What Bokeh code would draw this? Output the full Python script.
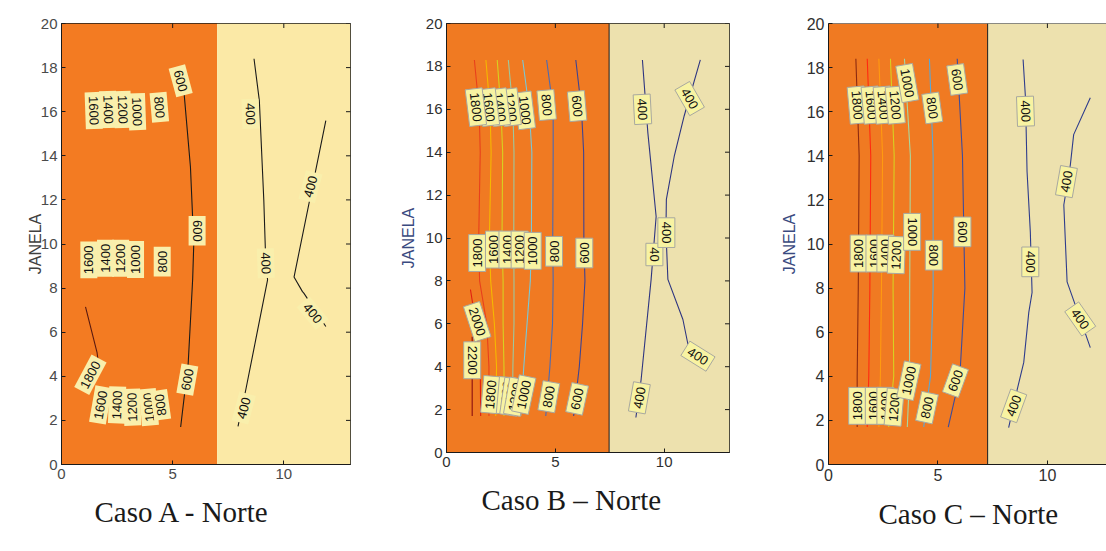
from bokeh.plotting import figure
from bokeh.models import FixedTicker, Title, Span
from bokeh.layouts import row
from bokeh.embed import file_html
from bokeh.resources import INLINE
from bokeh.core.properties import value

# ---------------- shared ticks ----------------
X_TICKS = [0, 5, 10]
Y_TICKS = [0, 2, 4, 6, 8, 10, 12, 14, 16, 18, 20]
Y_LABEL = "JANELA"

# ---------------- Caso A ----------------
A_caption = "Caso A - Norte"
A_split = 7.0
A_xmax = 13.0
A_line_level = ["600", "1800", "400", "400"]
A_line_y = [[1.7, 4.6, 8.4, 10.0, 13.5, 17.0],
            [4.3, 5.07, 7.15],
            [1.73, 3.39, 8.37, 9.13, 12.0, 16.5, 18.4],
            [6.26, 7.77, 7.84, 8.5, 15.6]]
A_line_x = [[5.36, 5.7, 5.9, 5.95, 5.8, 5.5],
            [1.7, 1.6, 1.08],
            [7.94, 8.29, 9.27, 9.19, 9.1, 8.9, 8.66],
            [11.89, 10.9, 10.84, 10.46, 11.89]]
A_line_color = ["#1a1a1a", "#5a1a10", "#1a1a1a", "#1a1a1a"]
A_lab_text = ["800", "1000", "1200", "1400", "1600", "600",
              "1600", "1400", "1200", "1000", "800", "600",
              "1600", "1400", "1200", "1000", "800", "1800", "600",
              "400", "400", "400", "400", "400"]
A_lab_x = [4.4, 3.4, 2.75, 2.1, 1.45, 5.36,
           1.23, 1.98, 2.66, 3.33, 4.53, 6.1,
           1.76, 2.5, 3.18, 3.93, 4.46, 1.3, 5.66,
           8.5, 9.19, 11.2, 11.3, 8.2]
A_lab_y = [16.2, 16.0, 16.1, 16.1, 16.05, 17.4,
           9.28, 9.35, 9.35, 9.3, 9.2, 10.6,
           2.7, 2.7, 2.6, 2.6, 2.7, 4.07, 3.85,
           15.9, 9.13, 12.6, 6.86, 2.56]
A_lab_angle = [-85, -88, -88, -88, -88, -75,
               90, 90, 90, 90, 90, -90,
               80, 88, 92, 95, 98, 62, 80,
               -88, -88, 75, -50, 75]

# ---------------- Caso B ----------------
B_caption = "Caso B \u2013 Norte"
B_split = 7.47
B_xmax = 13.0
B_line_level = ["1800", "1600", "1400", "1200", "1000", "800", "600",
                "2000", "2200", "400", "400"]
B_ys = [1.7, 4.0, 6.0, 8.0, 10.0, 14.0, 16.0, 18.3]
B_line_y = [B_ys] * 7 + [[1.7, 4.0, 6.0, 7.6], [1.7, 5.4],
            [1.63, 3.4, 8.07, 11.0, 14.9, 18.3],
            [5.0, 6.2, 8.07, 10.3, 11.8, 13.8, 15.7, 18.3]]
B_line_x = [[1.95, 1.95, 1.85, 1.52, 1.48, 1.55, 1.5, 1.28],
            [2.26, 2.3, 2.2, 2.03, 1.97, 2.05, 2.0, 1.81],
            [2.64, 2.64, 2.6, 2.6, 2.55, 2.58, 2.5, 2.33],
            [3.03, 3.05, 3.1, 3.1, 3.09, 3.1, 3.05, 2.84],
            [3.41, 3.55, 3.7, 3.85, 3.9, 3.92, 3.8, 3.5],
            [4.56, 4.75, 4.87, 4.9, 4.88, 4.9, 4.9, 4.6],
            [5.84, 6.1, 6.25, 6.36, 6.31, 6.3, 6.2, 5.94],
            [1.57, 1.55, 1.35, 1.1],
            [1.18, 1.18],
            [8.7, 8.94, 9.4, 9.63, 9.25, 9.0],
            [11.1, 10.86, 10.17, 10.08, 10.1, 10.46, 10.92, 11.66]]
B_line_color = ["#e8401c", "#f5b800", "#d8d020", "#9cc8a0", "#78c8d8",
                "#4a6ab4", "#3c4494", "#e02010", "#8c1010", "#2e3580", "#2e3580"]
B_lab_text = ["600", "800", "1000", "1200", "1400", "1600", "1800",
              "1800", "1600", "1400", "1200", "1000", "800", "600",
              "2200", "2000",
              "1800", "1600", "1400", "1200", "1000", "800", "600",
              "400", "400", "40", "400", "400", "400"]
B_lab_x = [6.0, 4.6, 3.6, 2.95, 2.45, 1.95, 1.35,
           1.41, 2.18, 2.8, 3.36, 3.96, 4.94, 6.33,
           1.18, 1.41,
           2.03, 2.75, 2.95, 3.15, 3.55, 4.7, 6.0,
           9.0, 11.17, 9.55, 10.1, 8.86, 11.55]
B_lab_y = [16.15, 16.2, 15.95, 16.1, 16.1, 16.1, 16.1,
           9.3, 9.46, 9.46, 9.46, 9.4, 9.38, 9.3,
           4.3, 6.1,
           2.7, 2.65, 2.6, 2.6, 2.7, 2.6, 2.5,
           16.0, 16.5, 9.23, 10.25, 2.55, 4.49]
B_lab_angle = [-85, -85, -83, -83, -83, -83, -83,
               90, 90, 90, 90, 90, 90, 90,
               -90, -72,
               85, 85, 82, 80, 78, 80, 78,
               -87, -60, -90, -90, 80, -32]

# ---------------- Caso C ----------------
C_caption = "Caso C \u2013 Norte"
C_split = 7.27
C_xmax = 12.7
C_line_level = ["1800", "1600", "1400", "1200", "1000", "800", "600", "400", "400"]
C_ys = [1.7, 4.0, 8.0, 14.0, 18.4]
C_line_y = [C_ys] * 7 + [[1.67, 3.4, 4.63, 6.9, 7.8, 10.55, 13.3, 16.6, 18.37],
                         [5.3, 6.15, 8.28, 11.77, 13.6, 14.96, 16.63]]
C_line_x = [[1.31, 1.31, 1.36, 1.4, 1.25],
            [1.77, 1.84, 1.89, 1.93, 1.77],
            [2.3, 2.37, 2.42, 2.47, 2.3],
            [2.75, 2.98, 2.95, 3.0, 2.83],
            [3.6, 3.7, 3.71, 3.74, 3.47],
            [4.35, 4.66, 4.78, 4.78, 4.61],
            [5.47, 6.0, 6.23, 6.12, 5.88],
            [8.23, 8.62, 8.92, 9.15, 9.3, 9.22, 9.07, 9.0, 8.89],
            [11.96, 11.66, 10.9, 10.75, 11.05, 11.2, 11.96]]
C_line_color = ["#8c2a10", "#ff2a10", "#ff9a10", "#d8d020", "#a8d8a0",
                "#58a8d8", "#3c4c9c", "#2e3c8c", "#2e3c8c"]
C_lab_text = ["1800", "1600", "1400", "1200", "1000", "800", "600",
              "1800", "1600", "1400", "1200", "1000", "800", "600",
              "1800", "1600", "1400", "1200", "1000", "800", "600",
              "400", "400", "400", "400", "400"]
C_lab_x = [1.31, 1.95, 2.5, 3.05, 3.6, 4.74, 5.88,
           1.38, 2.1, 2.6, 3.1, 3.82, 4.81, 6.12,
           1.31, 2.07, 2.6, 3.0, 3.67, 4.5, 5.8,
           9.0, 9.22, 10.87, 11.5, 8.46]
C_lab_y = [16.3, 16.3, 16.3, 16.3, 17.3, 16.17, 17.46,
           9.57, 9.57, 9.57, 9.5, 10.55, 9.49, 10.55,
           2.66, 2.66, 2.66, 2.6, 3.8, 2.58, 3.8,
           16.02, 9.19, 12.83, 6.6, 2.66]
C_lab_angle = [-85, -85, -85, -85, -80, -82, -82,
               90, 90, 90, 88, -90, -90, -90,
               90, 90, 90, 85, 78, 78, 70,
               -88, -90, 80, -55, 70]

EDGE = "#1a1a1a"


def make_panel(caption, split, xmax, line_x, line_y, line_color,
               lab_text, lab_x, lab_y, lab_angle, st):
    p = figure(width=st["w"], height=st["h"], x_range=(0, xmax), y_range=(0, 20),
               output_backend="svg", toolbar_location=None,
               min_border_left=st["bl"], min_border_right=st["br"],
               min_border_top=23, min_border_bottom=87,
               background_fill_color="white", border_fill_color="white")
    p.outline_line_color = EDGE if st["right"] else None
    p.grid.visible = False

    # filled regions
    p.quad(left=[0, split], right=[split, xmax], bottom=[0, 0], top=[20, 20],
           fill_color=[st["orange"], st["pale"]], line_color=None)
    if st["splitline"]:
        p.line(x=[split, split], y=[0, 20], line_color=EDGE, line_width=1)

    # contour lines
    p.multi_line(xs=line_x, ys=line_y, line_color=line_color, line_width=1.1)

    # contour labels (box + text drawn together, in order)
    p.text(x=lab_x, y=lab_y, text=lab_text, angle=lab_angle, angle_units="deg",
           text_font=value("Liberation Sans"), text_font_size="13px",
           text_color="#111111", text_align="center", text_baseline="middle",
           background_fill_color=st["boxfill"], border_line_color=st["boxline"],
           border_line_width=1, padding=4)

    # mirrored inward ticks on top (and right) edge
    p.scatter(x=X_TICKS, y=[20] * len(X_TICKS), marker="dash", size=9,
              angle=90, angle_units="deg", line_color=EDGE, line_width=1)
    if st["right"]:
        p.scatter(x=[xmax] * len(Y_TICKS), y=Y_TICKS, marker="dash", size=9,
                  line_color=EDGE, line_width=1)
    else:
        p.add_layout(Span(location=20, dimension="width", line_color=EDGE, line_width=1))

    # axes
    for ax in p.xaxis:
        ax.ticker = FixedTicker(ticks=X_TICKS)
    for ax in p.yaxis:
        ax.ticker = FixedTicker(ticks=Y_TICKS)
        ax.axis_label = Y_LABEL
        ax.axis_label_text_font = "Liberation Sans"
        ax.axis_label_text_font_size = st["alsize"]
        ax.axis_label_text_font_style = "normal"
        ax.axis_label_text_color = st["alcolor"]
        ax.axis_label_standoff = st["alstand"]
    for ax in list(p.xaxis) + list(p.yaxis):
        ax.major_label_text_font = "Liberation Sans"
        ax.major_label_text_font_size = st["tsize"]
        ax.major_label_text_color = st["tcolor"]
        ax.major_label_standoff = 4
        ax.major_tick_in = 4
        ax.major_tick_out = 0
        ax.minor_tick_line_color = None
        ax.axis_line_color = EDGE
        ax.major_tick_line_color = EDGE

    p.add_layout(Title(text=caption, align="left", offset=st["capoff"], standoff=28,
                       vertical_align="top",
                       text_font="Liberation Serif", text_font_size="29px",
                       text_font_style="normal", text_color="#1a1a1a"), "below")
    return p


stA = dict(w=380, h=551, bl=61, br=30, orange="#f37b22", pale="#fbe9a6",
           splitline=False, boxfill="#f9efac", boxline=None, alsize="16px",
           alcolor="#404040", alstand=-6, tsize="15px", tcolor="#4a4a4a",
           right=True, capoff=33)
stB = dict(w=380, h=539, bl=66, br=31, orange="#f07a22", pale="#ede1ae",
           splitline=True, boxfill="#f8f3a2", boxline="#a8a8a0", alsize="16px",
           alcolor="#3a4a80", alstand=6, tsize="15px", tcolor="#303030",
           right=True, capoff=35)
stC = dict(w=346, h=551, bl=68, br=0, orange="#f07a22", pale="#ede1ae",
           splitline=True, boxfill="#f8f3a2", boxline="#a8a8a0", alsize="16px",
           alcolor="#3a4a80", alstand=6, tsize="16px", tcolor="#303030",
           right=False, capoff=50)

pA = make_panel(A_caption, A_split, A_xmax, A_line_x, A_line_y, A_line_color,
                A_lab_text, A_lab_x, A_lab_y, A_lab_angle, stA)
pB = make_panel(B_caption, B_split, B_xmax, B_line_x, B_line_y, B_line_color,
                B_lab_text, B_lab_x, B_lab_y, B_lab_angle, stB)
pC = make_panel(C_caption, C_split, C_xmax, C_line_x, C_line_y, C_line_color,
                C_lab_text, C_lab_x, C_lab_y, C_lab_angle, stC)

layout = row(pA, pB, pC, spacing=0)
open("out.html", "w").write(file_html(layout, INLINE))
